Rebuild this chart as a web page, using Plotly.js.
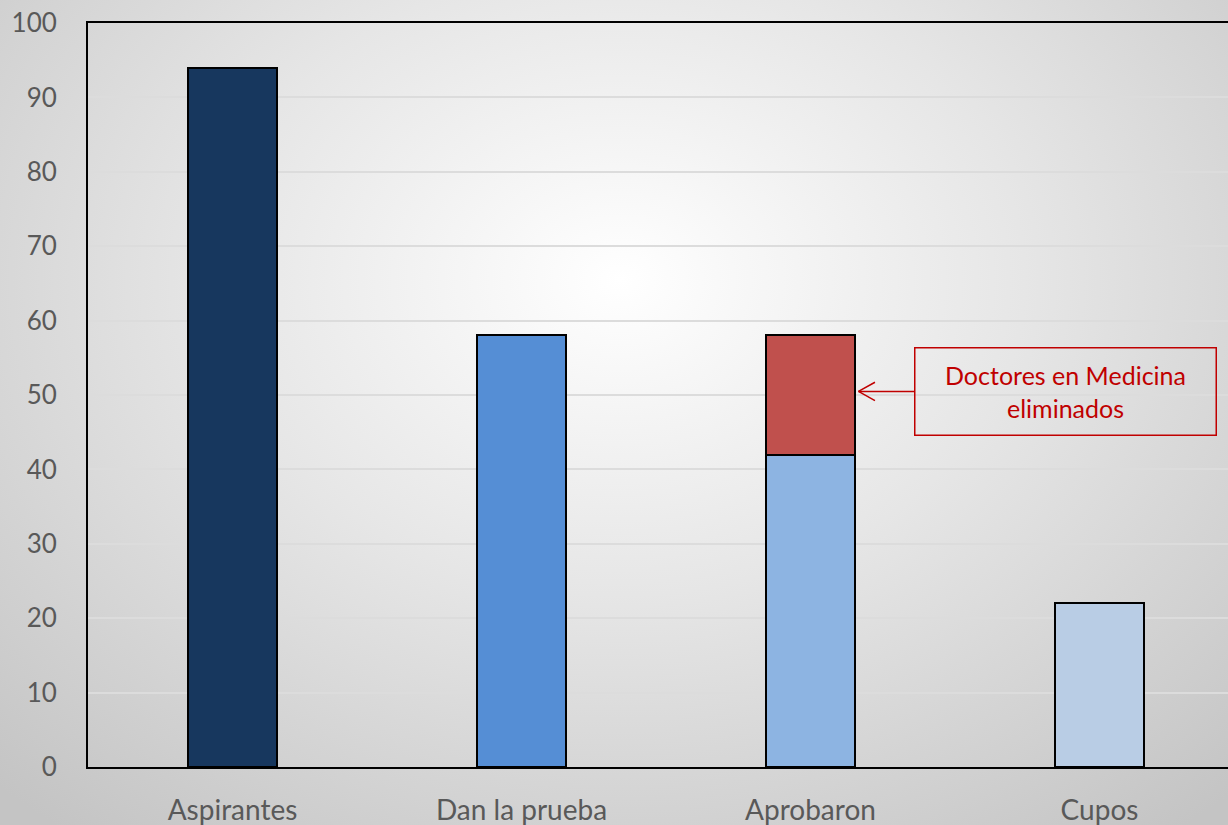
<!DOCTYPE html>
<html>
<head>
<meta charset="utf-8">
<script src="https://cdn.plot.ly/plotly-3.0.1.min.js"></script>
<style>
  html, body { margin: 0; padding: 0; overflow: hidden; }
  body {
    width: 1228px;
    height: 825px;
    background: radial-gradient(ellipse 900px 700px at 620px 280px, #ffffff 0%, #e6e6e6 45%, #c4c4c4 100%);
  }
  #chart { width: 1260px; height: 825px; }
</style>
</head>
<body>
<div id="chart"></div>
<script>
const categories = ["Aspirantes", "Dan la prueba", "Aprobaron", "Cupos"];
const baseValues = [94, 58, 42, 22];
const eliminatedValues = [0, 0, 16, 0];
const baseColors = ["#17375E", "#558ED5", "#8DB4E2", "#B9CDE5"];
const noteText = "Doctores en Medicina<br>eliminados";
const noteCategory = "Aprobaron";

const fontFamily = "Lato, 'Open Sans', sans-serif";

const traces = [
  {
    type: "bar",
    x: categories,
    y: baseValues,
    marker: { color: baseColors, line: { color: "#000000", width: 2 } },
    hoverinfo: "x+y"
  },
  {
    type: "bar",
    x: categories,
    y: eliminatedValues,
    marker: { color: "#C0504D", line: { color: "#000000", width: 2 } },
    hoverinfo: "x+y"
  }
];

// arrow tip sits just right of the stacked bar, halfway up the red segment
const noteIdx = categories.indexOf(noteCategory);
const tipX = noteIdx + 0.166;
const tipY = baseValues[noteIdx] + eliminatedValues[noteIdx] * 0.53;
const red = "#C00000";

const layout = {
  width: 1260,
  height: 825,
  margin: { l: 88, r: 16, t: 23, b: 58 },
  paper_bgcolor: "rgba(0,0,0,0)",
  plot_bgcolor: "rgba(0,0,0,0)",
  barmode: "stack",
  bargap: 0.69,
  showlegend: false,
  font: { family: fontFamily, size: 26, color: "#595959" },
  xaxis: {
    type: "category",
    range: [-0.5, 3.5],
    showline: true,
    mirror: true,
    linecolor: "#000000",
    linewidth: 2,
    showgrid: false,
    ticks: "",
    ticklabelstandoff: 17,
    tickfont: { family: fontFamily, size: 28, color: "#595959" }
  },
  yaxis: {
    range: [0, 100],
    dtick: 10,
    showline: true,
    mirror: true,
    linecolor: "#000000",
    linewidth: 2,
    showgrid: true,
    gridcolor: "#dcdcdc",
    gridwidth: 2,
    zeroline: false,
    ticks: "",
    ticklabelstandoff: 24,
    tickfont: { family: fontFamily, size: 26, color: "#595959" }
  },
  annotations: [
    {
      x: tipX, y: tipY, xref: "x", yref: "y",
      text: noteText,
      showarrow: true,
      arrowhead: 0,
      arrowwidth: 1.5,
      arrowcolor: red,
      ax: 207, ay: 0,
      width: 300, height: 86,
      align: "center",
      valign: "middle",
      bordercolor: red,
      borderwidth: 1.5,
      borderpad: 0,
      font: { family: fontFamily, size: 25, color: red }
    },
    {
      x: tipX, y: tipY, xref: "x", yref: "y",
      text: "", showarrow: true, arrowhead: 0, arrowwidth: 1.5, arrowcolor: red,
      ax: 18, ay: -10, standoff: 0
    },
    {
      x: tipX, y: tipY, xref: "x", yref: "y",
      text: "", showarrow: true, arrowhead: 0, arrowwidth: 1.5, arrowcolor: red,
      ax: 18, ay: 10, standoff: 0
    }
  ]
};

Plotly.newPlot("chart", traces, layout, { displayModeBar: false, staticPlot: true });
</script>
</body>
</html>
